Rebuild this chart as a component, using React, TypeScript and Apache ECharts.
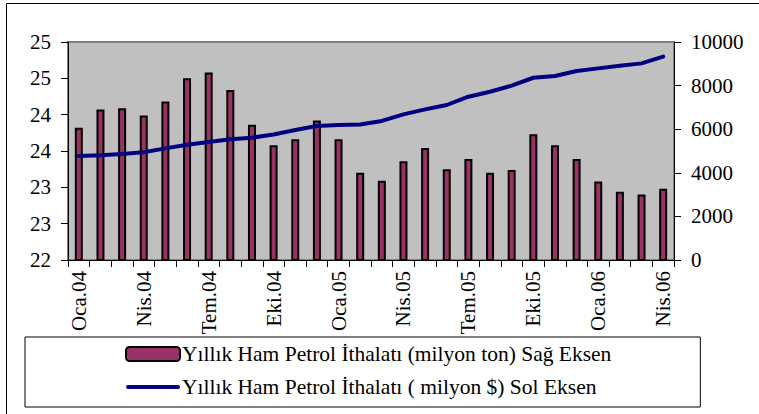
import React, { useEffect, useRef } from "react";
import * as echarts from "echarts";

const categories = [
  "Oca.04", "Şub.04", "Mar.04", "Nis.04", "May.04", "Haz.04", "Tem.04", "Ağu.04", "Eyl.04", "Eki.04", "Kas.04", "Ara.04",
  "Oca.05", "Şub.05", "Mar.05", "Nis.05", "May.05", "Haz.05", "Tem.05", "Ağu.05", "Eyl.05", "Eki.05", "Kas.05", "Ara.05",
  "Oca.06", "Şub.06", "Mar.06", "Nis.06",
];

const tonValues = [
  23.82, 24.07, 24.09, 23.99, 24.18, 24.5, 24.58, 24.34, 23.86, 23.58, 23.66, 23.92,
  23.66, 23.2, 23.09, 23.36, 23.54, 23.25, 23.39, 23.2, 23.24, 23.73, 23.58, 23.39,
  23.08, 22.94, 22.9, 22.98,
];

const dollarValues = [
  4770, 4800, 4860, 4940, 5120, 5290, 5410, 5540, 5610, 5760, 5960, 6150,
  6190, 6220, 6380, 6680, 6910, 7110, 7490, 7720, 8000, 8360, 8440, 8670,
  8790, 8910, 9020, 9330,
];

const barName = "Yıllık Ham Petrol İthalatı (milyon ton) Sağ Eksen";
const lineName = "Yıllık Ham Petrol İthalatı ( milyon $) Sol Eksen";

const FONT = "Times New Roman, Liberation Serif, DejaVu Serif, serif";

export default function App() {
  const ref = useRef<HTMLDivElement>(null);
  useEffect(() => {
    if (!ref.current) return;
    const chart = echarts.init(ref.current, undefined, { renderer: "svg" });
    chart.setOption({
      animation: false,
      backgroundColor: "#ffffff",
      textStyle: { fontFamily: FONT, color: "#000" },
      grid: {
        left: 68,
        right: 85,
        top: 42,
        bottom: 154,
        show: true,
        backgroundColor: "#C0C0C0",
        borderColor: "#808080",
        borderWidth: 2,
      },
      graphic: [
        {
          type: "rect",
          shape: { x: 6.5, y: 3.5, width: 900, height: 600 },
          style: { fill: "none", stroke: "#000", lineWidth: 1 },
          silent: true,
        },
      ],
      legend: {
        orient: "vertical",
        left: 25,
        top: 337,
        padding: [6, 89, 9, 100],
        borderColor: "#000",
        borderWidth: 1,
        itemWidth: 54,
        itemHeight: 14,
        itemGap: 11,
        symbolKeepAspect: true,
        textStyle: { fontFamily: FONT, fontSize: 21.5, color: "#000", lineHeight: 22, padding: [0, 0, 0, -3] },
        data: [
          { name: barName },
          {
            name: lineName,
            icon: "path://M2,0 L52,0 A2,2 0 0 1 52,4 L2,4 A2,2 0 0 1 2,0 Z",
            itemStyle: { color: "#000080", borderWidth: 0 },
          },
        ],
      },
      xAxis: {
        type: "category",
        data: categories,
        boundaryGap: true,
        axisLine: { lineStyle: { color: "#000", width: 1 } },
        axisTick: { show: true, interval: 0, length: 7, lineStyle: { color: "#000" } },
        axisLabel: {
          interval: 2,
          rotate: 90,
          margin: 11,
          fontFamily: FONT,
          fontSize: 21,
          color: "#000",
        },
        splitLine: { show: false },
      },
      yAxis: [
        {
          type: "value",
          min: 22,
          max: 25,
          interval: 0.5,
          position: "left",
          axisLine: { show: true, lineStyle: { color: "#000" } },
          axisTick: { show: true, length: 7, lineStyle: { color: "#000" } },
          axisLabel: {
            margin: 17,
            fontFamily: FONT,
            fontSize: 21,
            color: "#000",
            formatter: (v: number) => String(Math.round(v)),
          },
          splitLine: { show: false },
        },
        {
          type: "value",
          min: 0,
          max: 10000,
          interval: 2000,
          position: "right",
          axisLine: { show: true, lineStyle: { color: "#000" } },
          axisTick: { show: true, length: 7, lineStyle: { color: "#000" } },
          axisLabel: {
            margin: 17,
            fontFamily: FONT,
            fontSize: 21,
            color: "#000",
            formatter: (v: number) => String(v),
          },
          splitLine: { show: false },
        },
      ],
      series: [
        {
          name: barName,
          type: "bar",
          yAxisIndex: 0,
          data: tonValues,
          barWidth: 8,
          itemStyle: { color: "#993366", borderColor: "#000", borderWidth: 2 },
        },
        {
          name: lineName,
          type: "line",
          yAxisIndex: 1,
          data: dollarValues,
          showSymbol: false,
          symbol: "none",
          lineStyle: { color: "#000080", width: 4, cap: "round", join: "round" },
          itemStyle: { color: "#000080" },
        },
      ],
    });
    return () => chart.dispose();
  }, []);
  return (
    <div
      ref={ref}
      style={{ position: "fixed", left: 0, top: 0, width: 759, height: 414 }}
    />
  );
}
